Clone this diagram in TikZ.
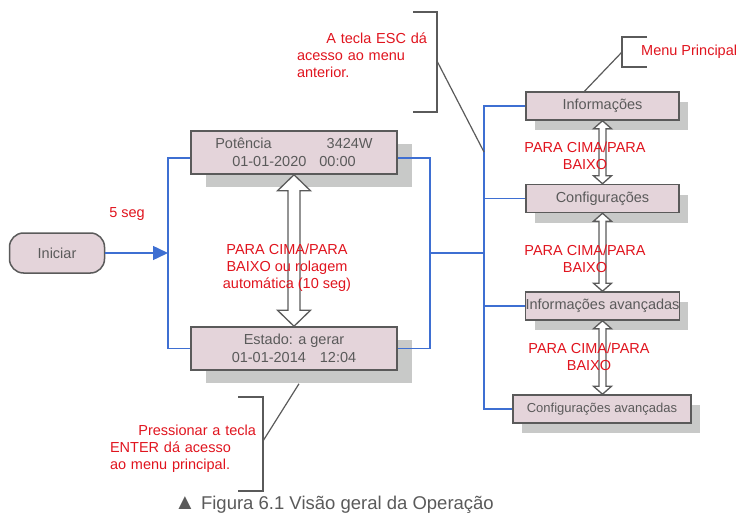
\documentclass[tikz,border=0pt]{standalone}
\usepackage{fontspec}
\setmainfont{Liberation Sans}
\usetikzlibrary{arrows.meta, calc}
\definecolor{boxpink}{HTML}{E4D4DA}
\definecolor{boxline}{HTML}{5A5A5A}
\definecolor{shade}{HTML}{C8C9C8}
\definecolor{busblue}{HTML}{3E6FD2}
\definecolor{notered}{HTML}{E0141E}
\tikzstyle{statebox} = [rectangle, minimum width=206pt, minimum height=43pt, inner sep=0pt, align=center, draw=boxline, line width=1.5pt, fill=boxpink, text=boxline, font=\fontsize{14.5}{18}\selectfont, preaction={fill=shade, transform canvas={xshift=15pt, yshift=-13pt}}]
\tikzstyle{menubox} = [rectangle, minimum width=153pt, minimum height=28pt, inner sep=0pt, align=center, draw=boxline, line width=1.5pt, fill=boxpink, text=boxline, font=\fontsize{14.5}{18}\selectfont, preaction={fill=shade, transform canvas={xshift=9pt, yshift=-10pt}}]
\tikzstyle{startbox} = [rectangle, rounded corners=14pt, minimum width=95pt, minimum height=40pt, draw=boxline, line width=1.5pt, fill=boxpink, text=boxline, font=\fontsize{14.5}{18}\selectfont]
\tikzstyle{note} = [text=notered, align=center, inner sep=0pt, font=\fontsize{14.5}{17}\selectfont]
\tikzstyle{bus} = [busblue, line width=1.5pt]
\tikzstyle{leader} = [boxline, line width=1.2pt]
\tikzstyle{hollow} = [draw=boxline, fill=white, line width=1.3pt, line join=miter]
% hollow up/down arrow: top anchor, bottom anchor, half shaft, half head, head length
\newcommand{\updown}[5]{%
  \draw[hollow] let \p1=(#1), \p2=(#2) in
    (\p1) -- (\x1+#4,\y1-#5) -- (\x1+#3,\y1-#5) -- (\x1+#3,\y2+#5) -- (\x1+#4,\y2+#5) -- (\x1,\y2)
    -- (\x1-#4,\y2+#5) -- (\x1-#3,\y2+#5) -- (\x1-#3,\y1-#5) -- (\x1-#4,\y1-#5) -- cycle;}

\begin{document}
\begin{tikzpicture}[x=1pt, y=-1pt]
    \useasboundingbox (0,0) rectangle (740,514);
    % left part
    \node (start) [startbox] at (57,253) {Iniciar};
    \node (power) [statebox] at (294,152.5) {Potência\hspace{55pt}3424W\\01-01-2020\hspace{13pt}00:00};
    \node (state) [statebox] at (294,348.5) {Estado: a gerar\\01-01-2014\hspace{14pt}12:04};
    % main menu
    \node (info) [menubox] at (602.5,106) {Informações};
    \node (conf) [menubox] at (602.5,198.5) {Configurações};
    \node (infoadv) [menubox] at (602.5,306) {Informações avançadas};
    \node (confadv) [menubox, minimum width=178pt, font=\fontsize{13}{15}\selectfont] at (602,409) {Configurações avançadas};
    \coordinate (lbus) at (168,253);
    \coordinate (rbus) at (430,253);
    \coordinate (mbus) at (484,253);
    \draw[bus, -{Triangle[length=15pt, width=14pt]}] (start) -- (lbus);
    \draw[bus] ([yshift=-5.5pt]power.west) -| (lbus) |- (state.west);
    \draw[bus] ([yshift=-5.5pt]power.east) -| (rbus) |- (state.east);
    \draw[bus] (rbus) -- (mbus);
    \draw[bus] (info.west) -| (mbus) |- (confadv.west);
    \draw[bus] (conf.west) -- (conf.west -| mbus);
    \draw[bus] (infoadv.west) -- (infoadv.west -| mbus);
    % up/down arrows
    \updown{power.south}{state.north}{6pt}{16.5pt}{16pt}
    \updown{info.south}{conf.north}{3.5pt}{9pt}{8pt}
    \updown{conf.south}{infoadv.north}{3.5pt}{9pt}{8pt}
    \updown{infoadv.south}{confadv.north}{3.5pt}{9pt}{8pt}
    \node (wait) [note] at (127,214) {5 seg};
    \node (scroll) [note] at (287,268) {PARA CIMA/PARA\\BAIXO ou rolagem\\automática (10 seg)};
    \node (step1) [note] at (585,156) {PARA CIMA/PARA\\BAIXO};
    \node (step2) [note] at (585,259) {PARA CIMA/PARA\\BAIXO};
    \node (step3) [note] at (589,357) {PARA CIMA/PARA\\BAIXO};
    % callouts
    \node (mainmenu) [note, anchor=west] at (641,52) {Menu Principal};
    \draw[leader] (647,37) -- (622,37) -- (622,67) -- (647,67);
    \coordinate (mmark) at (622,52);
    \draw[leader] (mmark) -- ([xshift=-18pt]info.north);
    \node (esc) [note, text width=130pt, align=left] at (362,55) {\hfill A tecla ESC dá\\acesso ao menu\\anterior.};
    \draw[leader] (413,12) -- (437,12) -- (437,112) -- (413,112);
    \coordinate (escmark) at (437,61);
    \coordinate (escend) at (484,152);
    \draw[leader] (escmark) -- (escend);
    \node (enter) [note, text width=146pt, align=left] at (183,449) {\hfill Pressionar a tecla\\ENTER dá acesso\\ao menu principal.};
    \draw[leader] (238,397) -- (263,397) -- (263,491) -- (238,491);
    \coordinate (entermark) at (263,441);
    \draw[leader] (entermark) -- ([xshift=5pt, yshift=-13pt]state.south);
    \node (caption) [text=boxline, font=\fontsize{18.5}{20}\selectfont] at (334,505) {{\fontsize{22}{22}\selectfont ▲} Figura 6.1 Visão geral da Operação};
\end{tikzpicture}
\end{document}
